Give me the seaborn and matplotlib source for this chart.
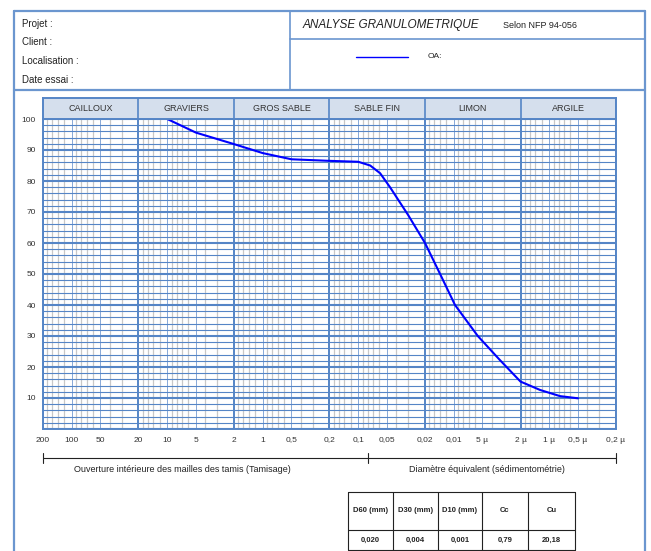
import numpy as np
import pandas as pd
import matplotlib
matplotlib.use("Agg")
import matplotlib.pyplot as plt
import matplotlib.transforms as mtransforms
import seaborn as sns

# data
sizes_mm = [10, 5, 2, 1, 0.5, 0.2, 0.1, 0.075, 0.059, 0.0465, 0.03, 0.02, 0.0139,
            0.0097, 0.0056, 0.0033, 0.002, 0.00125, 0.00077, 0.0005]
passing = [100, 95.6, 91.9, 89, 87, 86.5, 86.2, 85.0, 82.5, 78, 69, 60, 50,
           40, 30, 22.3, 15.3, 12.6, 10.6, 9.9]

class_names = ["CAILLOUX", "GRAVIERS", "GROS SABLE", "SABLE FIN", "LIMON", "ARGILE"]
class_bounds = [200, 20, 2, 0.2, 0.02, 0.002, 0.0002]

tick_values = [200, 100, 50, 20, 10, 5, 2, 1, 0.5, 0.2, 0.1, 0.05, 0.02, 0.01,
               0.005, 0.002, 0.001, 0.0005, 0.0002]
tick_labels = ["200", "100", "50", "20", "10", "5", "2", "1", "0,5", "0,2", "0,1",
               "0,05", "0,02", "0,01", "5 µ", "2 µ", "1 µ", "0,5 µ", "0,2 µ"]
split_value = 0.08  # sieve / sedimentometry limit

table_cols = ["D60 (mm)", "D30 (mm)", "D10 (mm)", "Cc", "Cu"]
table_vals = ["0,020", "0,004", "0,001", "0,79", "20,18"]

header_left = ["Projet :", "Client :", "Localisation :", "Date essai :"]

df = pd.DataFrame({"d": sizes_mm, "passing": passing})

sns.set_style("white")
plt.rcParams["font.family"] = ["Liberation Sans", "DejaVu Sans"]

W, H = 651, 551
fig = plt.figure(figsize=(W / 100, H / 100), dpi=100)

frame_col = "#6b96cf"
grid_blue = "#5585c6"
grid_grey = "#c8c8c8"
txt_col = "#222222"

# overlay in pixel units for the sheet frame and texts
ov = fig.add_axes([0, 0, 1, 1])
ov.set_xlim(0, W)
ov.set_ylim(H, 0)
ov.axis("off")

ov.plot([14, 645], [11, 11], color=frame_col, lw=1.6)
ov.plot([14, 14], [11, H], color=frame_col, lw=1.6)
ov.plot([645, 645], [11, H], color=frame_col, lw=1.6)
ov.plot([14, 645], [90, 90], color=frame_col, lw=1.6)
ov.plot([290, 290], [11, 90], color=frame_col, lw=1.2)
ov.plot([290, 645], [39, 39], color=frame_col, lw=1.2)

for txt, yy in zip(header_left, [24, 42, 61, 80]):
    ov.text(22, yy, txt, fontsize=7, va="center", ha="left", color=txt_col)

ov.text(303, 25, "ANALYSE GRANULOMETRIQUE", fontsize=8.5, style="italic",
        va="center", ha="left", color=txt_col)
ov.text(503, 25, "Selon NFP 94-056", fontsize=6.5, va="center", ha="left",
        color=txt_col)
ov.plot([356, 408], [57, 57], color="#0000ff", lw=1)
ov.text(428, 57, "OA:", fontsize=6, va="center", ha="left", color=txt_col)

ov.text(182, 469, "Ouverture intérieure des mailles des tamis (Tamisage)",
        fontsize=6.5, ha="center", va="center", color=txt_col)
ov.text(487, 469, "Diamètre équivalent (sédimentométrie)",
        fontsize=6.5, ha="center", va="center", color=txt_col)

# results table
col_x = [348, 393, 438, 482, 528, 575]
row_y = [492, 530, 550]
for xx in col_x:
    ov.plot([xx, xx], [row_y[0], row_y[-1]], color=txt_col, lw=0.8)
for yy in row_y:
    ov.plot([col_x[0], col_x[-1]], [yy, yy], color=txt_col, lw=0.8)
for i, (c, v) in enumerate(zip(table_cols, table_vals)):
    cx = (col_x[i] + col_x[i + 1]) / 2
    ov.text(cx, 511, c, fontsize=5.5, fontweight="bold", ha="center", va="center",
            color=txt_col)
    ov.text(cx, 540, v, fontsize=5.5, fontweight="bold", ha="center", va="center",
            color=txt_col)

# main chart
x0, x1 = 43, 616
yb, yt = 429, 119
ax = fig.add_axes([x0 / W, 1 - yb / H, (x1 - x0) / W, (yb - yt) / H])
ax.set_xscale("log")
ax.set_xlim(class_bounds[0], class_bounds[-1])
ax.set_ylim(0, 100)

# vertical grid lines
for n in range(-4, 3):
    for k in [1.2, 1.4, 1.6, 1.8, 3, 4, 6, 7, 8, 9]:
        v = k * 10.0 ** n
        if class_bounds[-1] < v < class_bounds[0]:
            ax.axvline(v, color=grid_grey, lw=0.9, zorder=1)
    for k in [1, 5]:
        v = k * 10.0 ** n
        if class_bounds[-1] < v < class_bounds[0]:
            ax.axvline(v, color=grid_blue, lw=0.7, alpha=0.7, zorder=1)
for b in class_bounds:
    ax.axvline(b, color=grid_blue, lw=1.4, zorder=2)

# horizontal grid lines
for p in range(0, 101, 2):
    ax.axhline(p, color=grid_blue, lw=1.5 if p % 10 == 0 else 0.8, zorder=2)

sns.lineplot(data=df, x="d", y="passing", ax=ax, color="#0000ff", lw=1.5,
             sort=False, zorder=5)

trans = mtransforms.blended_transform_factory(ax.transData, ax.transAxes)
ax.set_xticks([])
ax.xaxis.set_minor_locator(matplotlib.ticker.NullLocator())
lab_y = -(440 - yb) / (yb - yt)
for v, lab in zip(tick_values, tick_labels):
    ax.text(v, lab_y, lab, transform=trans, fontsize=6, ha="center",
            va="center", color="#333333", clip_on=False)
ax.set_yticks(range(10, 101, 10))
ax.tick_params(axis="both", length=0, labelsize=6, labelcolor="#333333")
ax.tick_params(axis="y", pad=5)
ax.set_xlabel("")
ax.set_ylabel("")
for s in ax.spines.values():
    s.set_color(grid_blue)
    s.set_linewidth(1.4)

# bracket under the axis
by = -(458 - yb) / (yb - yt)
tk = 5 / (yb - yt)
ax.plot([class_bounds[0], class_bounds[-1]], [by, by], color=txt_col, lw=0.8,
        transform=trans, clip_on=False)
for v in [class_bounds[0], split_value, class_bounds[-1]]:
    ax.plot([v, v], [by - tk, by + tk], color=txt_col, lw=0.8,
            transform=trans, clip_on=False)

# soil class band
band = fig.add_axes([x0 / W, 1 - yt / H, (x1 - x0) / W, (yt - 98) / H])
band.set_xscale("log")
band.set_xlim(class_bounds[0], class_bounds[-1])
band.set_ylim(0, 1)
band.set_facecolor("#d5dfed")
for name, a, b in zip(class_names, class_bounds[:-1], class_bounds[1:]):
    band.axvline(b, color=grid_blue, lw=1.2)
    band.text(np.sqrt(a * b), 0.5, name, fontsize=6.5, ha="center", va="center",
              color="#333333")
band.set_xticks([])
band.set_yticks([])
band.xaxis.set_minor_locator(matplotlib.ticker.NullLocator())
for s in band.spines.values():
    s.set_color(grid_blue)
    s.set_linewidth(1.4)

fig.savefig("out.png", dpi=100)
